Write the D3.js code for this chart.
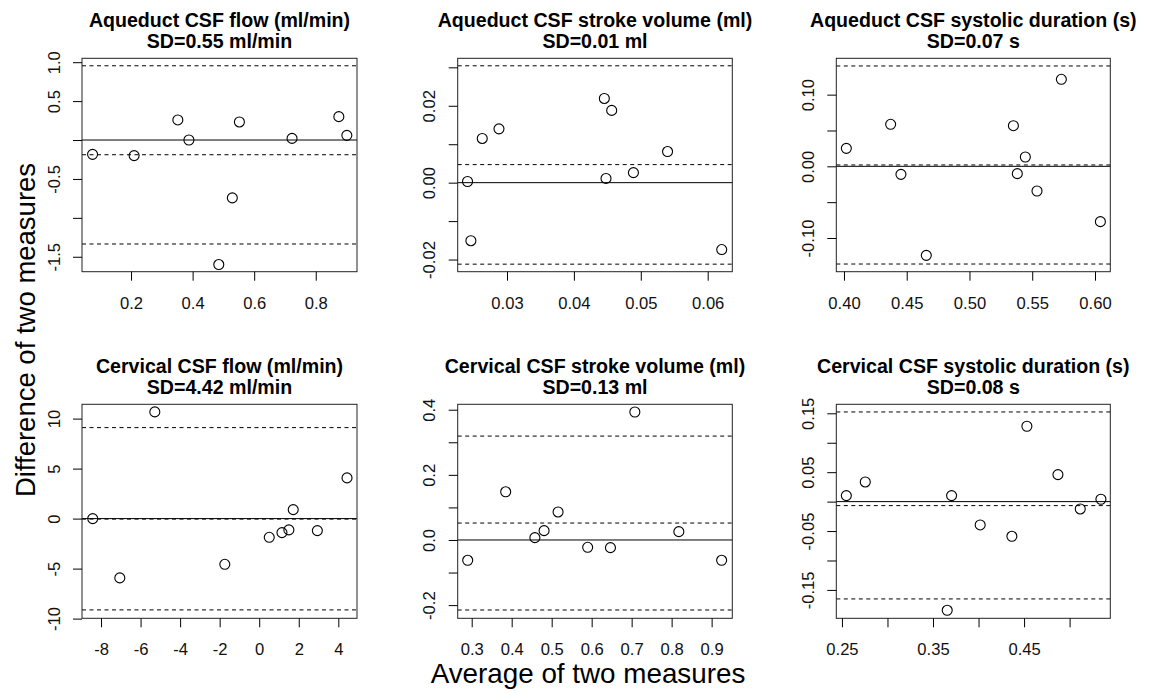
<!DOCTYPE html>
<html>
<head>
<meta charset="utf-8">
<script src="https://cdn.jsdelivr.net/npm/d3@7.9.0/dist/d3.min.js"></script>
<style>
  body { margin: 0; background: #fff; }
  svg { display: block; font-family: "Liberation Sans", Arial, sans-serif; }
</style>
</head>
<body>
<svg id="chart" width="1153" height="695"></svg>
<script>
// Panel titles
const titles = [
  'Aqueduct CSF flow (ml/min)',
  'Aqueduct CSF stroke volume (ml)',
  'Aqueduct CSF systolic duration (s)',
  'Cervical CSF flow (ml/min)',
  'Cervical CSF stroke volume (ml)',
  'Cervical CSF systolic duration (s)',
];
const sdLabels = ['SD=0.55 ml/min', 'SD=0.01 ml', 'SD=0.07 s', 'SD=4.42 ml/min', 'SD=0.13 ml', 'SD=0.08 s'];

// Average of two measures (x) and difference (y), per panel
const avgValues = [
  [0.075, 0.21, 0.352, 0.388, 0.552, 0.529, 0.485, 0.723, 0.875, 0.901],
  [0.0241, 0.0246, 0.0263, 0.0288, 0.04455, 0.04565, 0.0448, 0.0489, 0.054, 0.0621],
  [0.4019, 0.4372, 0.4454, 0.4656, 0.535, 0.5381, 0.5445, 0.5538, 0.5732, 0.6043],
  [-8.42, -5.28, -7.05, -1.74, 0.507, 1.15, 1.50, 1.72, 2.94, 4.44],
  [0.29, 0.385, 0.458, 0.481, 0.516, 0.59, 0.647, 0.708, 0.818, 0.925],
  [0.2548, 0.2756, 0.3704, 0.3656, 0.4018, 0.4366, 0.4531, 0.4872, 0.5117, 0.5344],
];
const diffValues = [
  [-0.184, -0.20, 0.258, 0.0, 0.232, -0.743, -1.60, 0.021, 0.30, 0.06],
  [0.0003, -0.0151, 0.0115, 0.0140, 0.0219, 0.0188, 0.0011, 0.0026, 0.0081, -0.0174],
  [0.0251, 0.0586, -0.0112, -0.1242, 0.0567, -0.0102, 0.0130, -0.0344, 0.1214, -0.0772],
  [0.0, 10.67, -5.93, -4.57, -1.87, -1.4, -1.13, 0.9, -1.2, 4.07],
  [-0.0624, 0.148, 0.0072, 0.0287, 0.086, -0.0225, -0.0235, 0.393, 0.0256, -0.0624],
  [0.0102, 0.0334, 0.0102, -0.1846, -0.0396, -0.0589, 0.128, 0.0459, -0.0125, 0.004],
];

// mean difference and limits of agreement
const meanDiff = [-0.189, 0.0047, 0.0019, -0.05, 0.052, -0.0068];
const upperLimit = [0.954, 0.0304, 0.140, 9.1, 0.319, 0.1523];
const lowerLimit = [-1.336, -0.0212, -0.1363, -9.13, -0.215, -0.1653];

// axis ranges
const xDomains = [[0.0407, 0.934], [0.02263, 0.06368], [0.3939, 0.6122], [-8.962, 4.945], [0.265, 0.9517], [0.2438, 0.5447]];
const yDomains = [[-1.692, 1.050], [-0.02316, 0.03235], [-0.147, 0.1507], [-9.97, 11.43], [-0.2405, 0.4166], [-0.1982, 0.1653]];

// ticks ('' = tick without label)
const xTicks = [
  [0.2, 0.4, 0.6, 0.8],
  [0.03, 0.04, 0.05, 0.06],
  [0.40, 0.45, 0.50, 0.55, 0.60],
  [-8, -6, -4, -2, 0, 2, 4],
  [0.3, 0.4, 0.5, 0.6, 0.7, 0.8, 0.9],
  [0.25, 0.30, 0.35, 0.40, 0.45, 0.50],
];
const xTickLabels = [
  ['0.2', '0.4', '0.6', '0.8'],
  ['0.03', '0.04', '0.05', '0.06'],
  ['0.40', '0.45', '0.50', '0.55', '0.60'],
  ['-8', '-6', '-4', '-2', '0', '2', '4'],
  ['0.3', '0.4', '0.5', '0.6', '0.7', '0.8', '0.9'],
  ['0.25', '', '0.35', '', '0.45', ''],
];
const yTicks = [
  [-1.5, -1, -0.5, 0, 0.5, 1],
  [-0.02, -0.01, 0, 0.01, 0.02, 0.03],
  [-0.10, -0.05, 0, 0.05, 0.10],
  [-10, -5, 0, 5, 10],
  [-0.2, -0.1, 0, 0.1, 0.2, 0.3, 0.4],
  [-0.15, -0.10, -0.05, 0, 0.05, 0.10, 0.15],
];
const yTickLabels = [
  ['-1.5', '', '-0.5', '', '0.5', '1.0'],
  ['-0.02', '', '0.00', '', '0.02', ''],
  ['-0.10', '', '0.00', '', '0.10'],
  ['-10', '-5', '0', '5', '10'],
  ['-0.2', '', '0.0', '', '0.2', '', '0.4'],
  ['-0.15', '', '-0.05', '', '0.05', '', '0.15'],
];

const xLabel = 'Average of two measures';
const yLabel = 'Difference of two measures';

// layout
const colLeft = [82, 457.7, 836.3];
const colRight = [357, 732.3, 1110.3];
const rowTop = [58.3, 404.3];
const rowBottom = [271.7, 618.3];

const svg = d3.select('#chart');

titles.forEach((title, i) => {
  const col = i % 3, row = Math.floor(i / 3);
  const left = colLeft[col], right = colRight[col];
  const top = rowTop[row], bottom = rowBottom[row];

  const x = d3.scaleLinear().domain(xDomains[i]).range([left, right]);
  const y = d3.scaleLinear().domain(yDomains[i]).range([bottom, top]);

  const g = svg.append('g').attr('class', 'panel');

  // reference lines
  g.append('line')
    .attr('x1', left).attr('x2', right)
    .attr('y1', y(0)).attr('y2', y(0))
    .attr('stroke', '#000').attr('stroke-width', 1);

  [meanDiff[i], upperLimit[i], lowerLimit[i]].forEach(v => {
    g.append('line')
      .attr('x1', left).attr('x2', right)
      .attr('y1', y(v)).attr('y2', y(v))
      .attr('stroke', '#000').attr('stroke-width', 1)
      .attr('stroke-dasharray', '4,3.5');
  });

  // points
  g.append('g').selectAll('circle')
    .data(avgValues[i].map((v, k) => [v, diffValues[i][k]]))
    .join('circle')
    .attr('cx', d => x(d[0]))
    .attr('cy', d => y(d[1]))
    .attr('r', 5)
    .attr('fill', 'none')
    .attr('stroke', '#000')
    .attr('stroke-width', 1.1);

  // box
  g.append('rect')
    .attr('x', left).attr('y', top)
    .attr('width', right - left).attr('height', bottom - top)
    .attr('fill', 'none').attr('stroke', '#222').attr('stroke-width', 1);

  // x axis
  const xAxis = d3.axisBottom(x)
    .tickValues(xTicks[i])
    .tickSize(9)
    .tickFormat((d, k) => xTickLabels[i][k]);
  const gx = g.append('g')
    .attr('transform', `translate(0,${bottom})`)
    .call(xAxis);
  gx.select('.domain').remove();
  gx.selectAll('text')
    .attr('y', 37).attr('dy', 0)
    .attr('fill', '#111')
    .style('font-size', '16.6px');

  // y axis (labels rotated, as in R)
  const yAxis = d3.axisLeft(y)
    .tickValues(yTicks[i])
    .tickSize(9)
    .tickFormat((d, k) => yTickLabels[i][k]);
  const gy = g.append('g')
    .attr('transform', `translate(${left},0)`)
    .call(yAxis);
  gy.select('.domain').remove();
  gy.selectAll('text')
    .attr('transform', 'rotate(-90)')
    .attr('x', 0).attr('y', -22.5).attr('dy', 0)
    .attr('text-anchor', 'middle')
    .attr('fill', '#111')
    .style('font-size', '16.6px');

  // title
  const cx = (left + right) / 2;
  g.append('text')
    .attr('x', cx).attr('y', top - 31.6)
    .attr('text-anchor', 'middle')
    .attr('font-weight', 'bold')
    .style('font-size', '19.6px')
    .text(title);
  g.append('text')
    .attr('x', cx).attr('y', top - 10)
    .attr('text-anchor', 'middle')
    .attr('font-weight', 'bold')
    .style('font-size', '19.6px')
    .text(sdLabels[i]);
});

// outer axis titles
svg.append('text')
  .attr('x', 588).attr('y', 683)
  .attr('text-anchor', 'middle')
  .style('font-size', '27.8px')
  .text(xLabel);

svg.append('text')
  .attr('transform', 'translate(35,330) rotate(-90)')
  .attr('text-anchor', 'middle')
  .style('font-size', '27.5px')
  .text(yLabel);
</script>
</body>
</html>
